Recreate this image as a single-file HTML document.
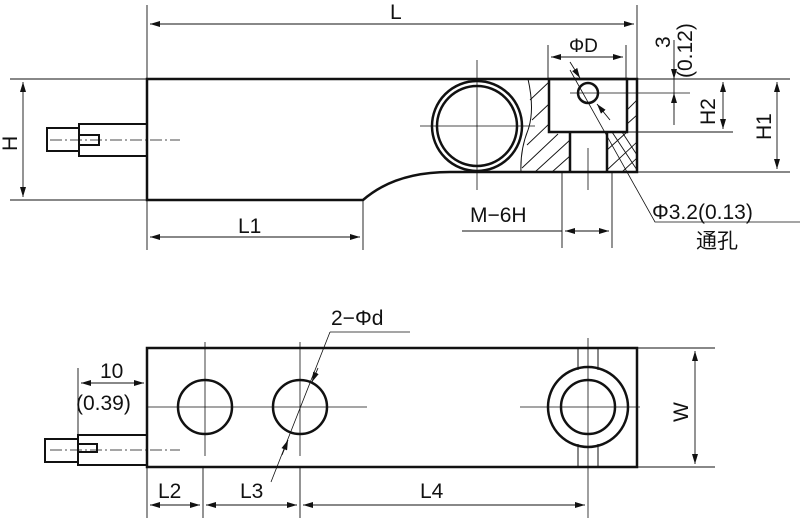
<!DOCTYPE html>
<html><head><meta charset="utf-8"><style>
html,body{margin:0;padding:0;background:#fff;}
svg{display:block;}
text{font-family:"Liberation Sans","Noto Sans CJK SC",sans-serif;fill:#111;}
</style></head><body>
<svg width="800" height="518" viewBox="0 0 800 518" xmlns="http://www.w3.org/2000/svg">
<defs>
<marker id="a" viewBox="0 0 10 6" refX="10" refY="3" markerWidth="10" markerHeight="6" orient="auto-start-reverse" markerUnits="userSpaceOnUse"><path d="M0,0 L10,3 L0,6z" fill="#111"/></marker>
</defs>
<g stroke="#111" fill="none">
<!-- TOP VIEW -->
<path d="M147,79 H637 V172 H450 Q395,172 363,200 H147 Z" stroke-width="2.5"/>
<circle cx="477" cy="126" r="45" stroke-width="2.5"/>
<circle cx="477" cy="126" r="40" stroke-width="2.5"/>
<path d="M549,79 H627 V132 H549 Z M570,132 V172 M607,132 V172" stroke-width="2.5"/>
<circle cx="588" cy="93" r="10" stroke-width="2.5"/>
<path d="M528,79 Q535,110 528,130 Q520,150 521,172" stroke-width="1"/>
<g stroke-width="0.9">
<path d="M530,100 L549,82 M532,120 L549,104 M527,145 L549,124 M522,168 L558,134 M535,172 L570,140 M552,172 L570,156"/>
<path d="M607,150 L627,132 M607,170 L637,142 M622,172 L637,158 M627,110 L637,100 M627,124 L637,115 M612,132 L637,170 M622,132 L637,155"/>
</g>
<g stroke-width="0.8">
<path d="M420,126 H535 M477,60 V190 M570,93 H690 M588,148 V190 M570,70 L655,222 H800"/>
<path d="M50,140 H180" stroke-dasharray="12,3,2,3"/>
</g>
<path d="M147,124 H79 V156 H147 M79,128 H47 V151 H79 M79,135 H99 V145 H79" stroke-width="2"/>
<g stroke-width="0.9">
<path d="M147,5 V250 M637,5 V79 M10,79 H147 M10,200 H147 M363,200 V250 M548,45 V79 M626,45 V79 M637,79 H790 M627,132 H733 M637,172 H790 M562,172 V248 M612,172 V248 M674,40 V125 M462,231 H562"/>
<path d="M150,24 H634" marker-start="url(#a)" marker-end="url(#a)"/>
<path d="M23,82 V197" marker-start="url(#a)" marker-end="url(#a)"/>
<path d="M150,237 H360" marker-start="url(#a)" marker-end="url(#a)"/>
<path d="M551,57 H623" marker-start="url(#a)" marker-end="url(#a)"/>
<path d="M723,82 V129" marker-start="url(#a)" marker-end="url(#a)"/>
<path d="M777,82 V169" marker-start="url(#a)" marker-end="url(#a)"/>
<path d="M565,231 H609" marker-start="url(#a)" marker-end="url(#a)"/>
<path d="M674,60 V79" marker-end="url(#a)"/>
<path d="M674,110 V93" marker-end="url(#a)"/>
<path d="M570,62 L580,78" marker-end="url(#a)"/>
<path d="M610,120 L597,104" marker-end="url(#a)"/>
</g>
<!-- BOTTOM VIEW -->
<path d="M147,348 H637 V467 H147 Z" stroke-width="2.5"/>
<circle cx="205" cy="407" r="27" stroke-width="2.5"/>
<circle cx="300" cy="407" r="27" stroke-width="2.5"/>
<circle cx="588" cy="407" r="40" stroke-width="2.5"/>
<circle cx="588" cy="407" r="27" stroke-width="2.5"/>
<path d="M578,348 V370 M598,348 V370 M578,444 V467 M598,444 V467" stroke-width="1"/>
<g stroke-width="0.8">
<path d="M147,407 H367 M205,342 V456 M300,342 V456 M520,407 H640 M588,338 V518"/>
<path d="M50,450 H180" stroke-dasharray="12,3,2,3"/>
<path d="M330,332 L271,482 M330,332 H410"/>
</g>
<path d="M147,435 H78 V465 H147 M78,439 H45 V462 H78 M78,444 H97 V452 H78" stroke-width="2"/>
<g stroke-width="0.9">
<path d="M78,368 V443 M637,348 H715 M637,467 H715 M147,467 V518 M203,467 V518 M300,467 V518"/>
<path d="M81,383 H144" marker-start="url(#a)" marker-end="url(#a)"/>
<path d="M695,351 V464" marker-start="url(#a)" marker-end="url(#a)"/>
<path d="M150,505 H200" marker-start="url(#a)" marker-end="url(#a)"/>
<path d="M206,505 H297" marker-start="url(#a)" marker-end="url(#a)"/>
<path d="M303,505 H585" marker-start="url(#a)" marker-end="url(#a)"/>
<path d="M318,368 L312,382" marker-end="url(#a)"/>
<path d="M282,455 L288,440" marker-end="url(#a)"/>
</g>
</g>
<g font-size="21">
<text x="390" y="19">L</text>
<text x="238" y="233">L1</text>
<text x="569" y="52" font-size="19">ΦD</text>
<text x="470" y="222">M−6H</text>
<text x="652" y="219">Φ3.2(0.13)</text>
<text x="696" y="248">通孔</text>
<text x="0" y="0" transform="translate(17,151) rotate(-90)">H</text>
<text x="0" y="0" transform="translate(670,48) rotate(-90)">3</text>
<text x="0" y="0" transform="translate(692,78) rotate(-90)">(0.12)</text>
<text x="0" y="0" transform="translate(715,125) rotate(-90)">H2</text>
<text x="0" y="0" transform="translate(771,140) rotate(-90)">H1</text>
<text x="331" y="325">2−Φd</text>
<text x="100" y="378">10</text>
<text x="76" y="410">(0.39)</text>
<text x="158" y="498">L2</text>
<text x="240" y="498">L3</text>
<text x="420" y="498">L4</text>
<text x="0" y="0" transform="translate(688,422) rotate(-90)">W</text>
</g>
</svg>
</body></html>
